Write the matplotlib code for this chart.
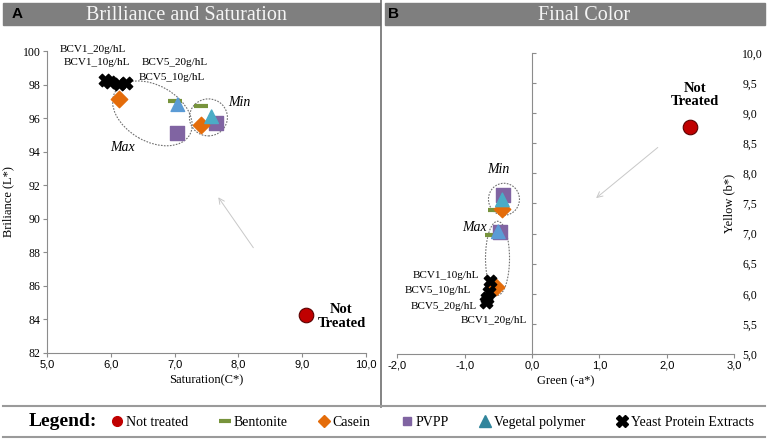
import matplotlib
matplotlib.use("Agg")
import matplotlib.pyplot as plt
from matplotlib.patches import Ellipse, Rectangle
from matplotlib.lines import Line2D
from matplotlib.transforms import ScaledTranslation
from matplotlib.ticker import FuncFormatter, MultipleLocator

# Panel A: Saturation (C*) vs Brilliance (L*)
a_not_treated = ([9.07], [84.25])
a_bentonite = ([7.00, 7.41], [97.00, 96.70])
a_casein = ([6.13, 7.41], [97.12, 95.60])
a_pvpp = ([7.03, 7.65], [95.13, 95.72])
a_vegetal = ([7.05, 7.58], [96.80, 96.08])
a_yeast = ([5.90, 5.99, 6.12, 6.24], [98.25, 98.15, 98.05, 98.12])

# Panel B: Green (-a*) vs Yellow (b*)
b_not_treated = ([2.35], [8.77])
b_bentonite = ([-0.55, -0.60], [7.39, 6.98])
b_casein = ([-0.44, -0.53], [7.40, 6.11])
b_pvpp = ([-0.43, -0.48], [7.64, 7.03])
b_vegetal = ([-0.44, -0.50], [7.56, 7.03])
b_yeast = ([-0.62, -0.64, -0.67, -0.69], [6.22, 6.03, 5.93, 5.87])

yeast_labels = ["BCV1_20g/hL", "BCV1_10g/hL", "BCV5_20g/hL", "BCV5_10g/hL"]

RED = "#C00000"
GREEN = "#77933C"
ORANGE = "#E46C0A"
PURPLE = "#8064A2"
TEAL = "#4BACC6"
BLUE = "#5B9BD5"
GRAY = "#8C8C8C"

plt.rcParams["font.family"] = ["Liberation Serif", "DejaVu Serif"]

fig = plt.figure(figsize=(7.67, 4.40), dpi=100)


def draw_points(ax, nt, ben, cas, pvpp, veg, yeast, veg_colors):
    ax.scatter(nt[0], nt[1], s=110, c=RED, edgecolors="#5a0000", linewidths=0.8, zorder=5)
    ax.scatter(ben[0], ben[1], s=90, marker="_", c=GREEN, linewidths=3, zorder=4)
    ax.scatter(cas[0], cas[1], s=70, marker="D", c=ORANGE, zorder=5)
    ax.scatter(pvpp[0], pvpp[1], s=110, marker="s", c=PURPLE, zorder=4)
    ax.scatter(veg[0], veg[1], s=95, marker="^", c=veg_colors, zorder=5)
    ax.scatter(yeast[0], yeast[1], s=80, marker="X", c="black", zorder=6)


def ring(ax, x, y, w_px, h_px, angle=0):
    # ellipse sized in pixels, centred on a data point
    tr = fig.dpi_scale_trans + ScaledTranslation(x, y, ax.transData)
    e = Ellipse((0, 0), w_px / 100, h_px / 100, angle=angle, transform=tr,
                fill=False, ec="#707070", lw=0.8, ls=(0, (1.5, 1.2)), zorder=3)
    ax.add_patch(e)


comma = FuncFormatter(lambda v, p: f"{v:.1f}".replace(".", ","))

# ---------------- Panel A ----------------
ax1 = fig.add_axes([0.0617, 0.1984, 0.4151, 0.6856])
draw_points(ax1, a_not_treated, a_bentonite, a_casein, a_pvpp, a_vegetal, a_yeast, [BLUE, TEAL])
ax1.set_xlim(5, 10)
ax1.set_ylim(82, 100)
ax1.xaxis.set_major_locator(MultipleLocator(1))
ax1.yaxis.set_major_locator(MultipleLocator(2))
ax1.xaxis.set_major_formatter(comma)
for s in ["top", "right"]:
    ax1.spines[s].set_visible(False)
for s in ["left", "bottom"]:
    ax1.spines[s].set_color(GRAY)
ax1.tick_params(length=3, color=GRAY, labelsize=8.5, pad=2)
for lab in ax1.get_xticklabels():
    lab.set_family("Liberation Sans")
    lab.set_fontsize(8)
ax1.set_xlabel("Saturation(C*)", fontsize=9, labelpad=3)
ax1.set_ylabel("Briliance (L*)", fontsize=9, labelpad=6)

ring(ax1, 6.65, 96.28, 86, 56, angle=-30)
ring(ax1, 7.53, 96.04, 38, 37)
ax1.annotate("", xy=(7.66, 91.41), xytext=(8.26, 88.13),
             arrowprops=dict(arrowstyle="->", color="#C8C8C8", lw=0.7))
ax1.text(5.72, 100.1, yeast_labels[0], fontsize=8, ha="center", va="center")
ax1.text(5.78, 99.33, yeast_labels[1], fontsize=8, ha="center", va="center")
ax1.text(7.00, 99.33, yeast_labels[2], fontsize=8, ha="center", va="center")
ax1.text(6.96, 98.43, yeast_labels[3], fontsize=8, ha="center", va="center")
ax1.text(8.02, 96.9, "Min", fontsize=10, style="italic", ha="center", va="center")
ax1.text(6.18, 94.23, "Max", fontsize=10, style="italic", ha="center", va="center")
ax1.text(9.62, 84.15, "Not\nTreated", fontsize=10.5, weight="bold", ha="center",
         va="center", linespacing=1.05)

# ---------------- Panel B ----------------
ax2 = fig.add_axes([0.518, 0.1955, 0.439, 0.6841])
draw_points(ax2, b_not_treated, b_bentonite, b_casein, b_pvpp, b_vegetal, b_yeast, [TEAL, BLUE])
ax2.set_xlim(-2, 3)
ax2.set_ylim(5, 10)
ax2.xaxis.set_major_locator(MultipleLocator(1))
ax2.yaxis.set_major_locator(MultipleLocator(0.5))
ax2.xaxis.set_major_formatter(comma)
ax2.yaxis.set_major_formatter(comma)
ax2.spines["left"].set_position(("data", 0))
ax2.spines["top"].set_visible(False)
ax2.spines["right"].set_visible(False)
for s in ["left", "bottom"]:
    ax2.spines[s].set_color(GRAY)
ax2.tick_params(axis="x", length=3, color=GRAY, labelsize=8, pad=2)
ax2.tick_params(axis="y", direction="in", length=3, color=GRAY, labelsize=8.5,
                left=True, right=False, labelleft=False, labelright=True, pad=6)
for lab in ax2.get_xticklabels():
    lab.set_family("Liberation Sans")
ax2.set_xlabel("Green (-a*)", fontsize=9, labelpad=3)
ax2.set_ylabel("Yellow (b*)", fontsize=9)
ax2.yaxis.set_label_coords(1.005, 0.5)

ring(ax2, -0.416, 7.57, 31, 32)
ring(ax2, -0.512, 6.59, 24, 74)
ax2.annotate("", xy=(0.92, 7.56), xytext=(1.9, 8.46),
             arrowprops=dict(arrowstyle="->", color="#C8C8C8", lw=0.7))
ax2.text(-0.79, 6.31, yeast_labels[1], fontsize=8, ha="right", va="center")
ax2.text(-0.91, 6.05, yeast_labels[3], fontsize=8, ha="right", va="center")
ax2.text(-0.82, 5.79, yeast_labels[2], fontsize=8, ha="right", va="center")
ax2.text(-0.08, 5.55, yeast_labels[0], fontsize=8, ha="right", va="center")
ax2.text(-0.50, 8.07, "Min", fontsize=10, style="italic", ha="center", va="center")
ax2.text(-0.85, 7.10, "Max", fontsize=10, style="italic", ha="center", va="center")
ax2.text(2.42, 9.30, "Not\nTreated", fontsize=10.5, weight="bold", ha="center",
         va="center", linespacing=1.05)

# ---------------- frame: title bars, dividers ----------------
fig.patches.append(Rectangle((3 / 767, 1 - 25 / 440), 377 / 767, 22 / 440,
                             transform=fig.transFigure, color="#7F7F7F", zorder=0))
fig.patches.append(Rectangle((385 / 767, 1 - 25 / 440), 380 / 767, 22 / 440,
                             transform=fig.transFigure, color="#7F7F7F", zorder=0))
fig.text(0.2425, 1 - 15 / 440, "Brilliance and Saturation", color="#F5F5F5",
         fontsize=14.5, ha="center", va="center")
fig.text(0.761, 1 - 15 / 440, "Final Color", color="#F5F5F5",
         fontsize=14.5, ha="center", va="center")
fig.text(12 / 767, 1 - 14 / 440, "A", fontsize=11, weight="bold",
         family="Liberation Sans", va="center")
fig.text(388 / 767, 1 - 14 / 440, "B", fontsize=11, weight="bold",
         family="Liberation Sans", va="center")

fig.add_artist(Line2D([381 / 767, 381 / 767], [1 - 407 / 440, 1], color="#6E6E6E", lw=1.2))
fig.add_artist(Line2D([3 / 767, 765 / 767], [1 - 406 / 440, 1 - 406 / 440], color="#9A9A9A", lw=1.5))
fig.add_artist(Line2D([3 / 767, 765 / 767], [1 - 437 / 440, 1 - 437 / 440], color="#9A9A9A", lw=1.5))

# ---------------- legend row ----------------
fig.text(29 / 767, 1 - 421 / 440, "Legend:", fontsize=14, weight="bold", va="center")
handles = [
    Line2D([], [], ls="", marker="o", color=RED, markersize=7),
    Line2D([], [], ls="", marker="_", color=GREEN, markersize=8, markeredgewidth=3),
    Line2D([], [], ls="", marker="D", color=ORANGE, markersize=6),
    Line2D([], [], ls="", marker="s", color=PURPLE, markersize=6),
    Line2D([], [], ls="", marker="^", color="#31859C", markersize=9),
    Line2D([], [], ls="", marker="X", color="black", markersize=8),
]
names = ["Not treated", "Bentonite", "Casein", "PVPP", "Vegetal polymer",
         "Yeast Protein Extracts"]
fig.legend(handles, names, loc="center left", bbox_to_anchor=(111 / 767, 1 - 422 / 440),
           ncol=6, frameon=False, fontsize=10, handlelength=0.9, handletextpad=0.2,
           columnspacing=2.15, borderaxespad=0, borderpad=0)

fig.savefig("out.png", dpi=100)
